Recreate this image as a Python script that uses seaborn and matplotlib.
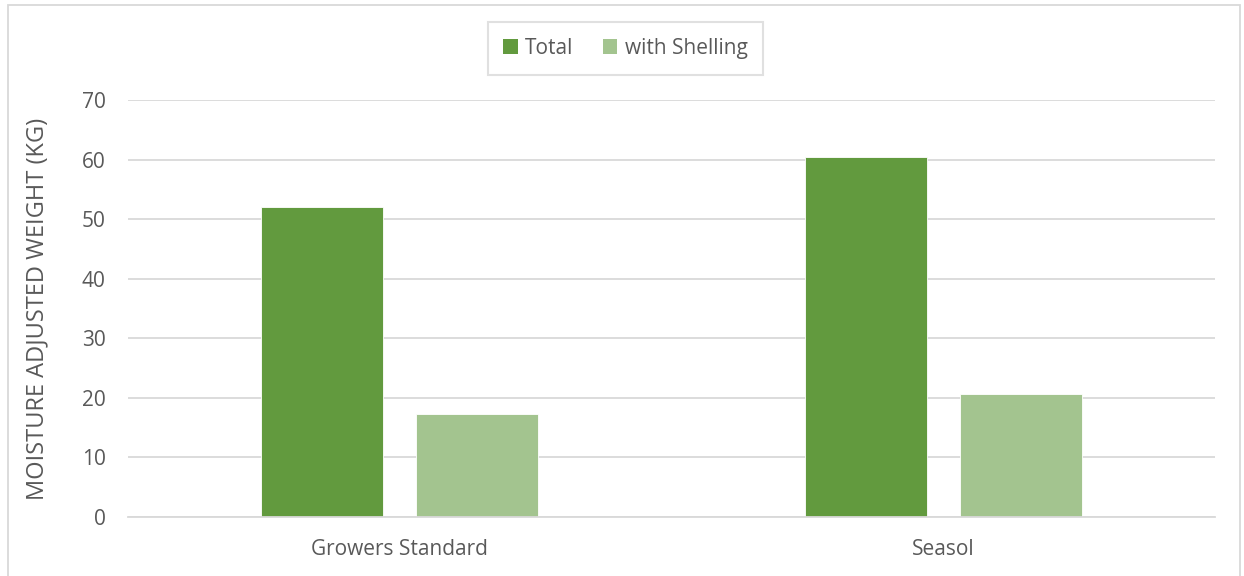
import matplotlib
matplotlib.use("Agg")
import matplotlib.pyplot as plt
import seaborn as sns
import pandas as pd
from matplotlib.patches import Patch, Rectangle

categories = ["Growers Standard", "Seasol"]
series_names = ["Total", "with Shelling"]
total_values = [52.0, 60.4]
shelling_values = [17.3, 20.6]
y_ticks = [0, 10, 20, 30, 40, 50, 60, 70]
y_label = "MOISTURE ADJUSTED WEIGHT (KG)"

colors = ["#629A3E", "#A3C48F"]
text_color = "#595959"
grid_color = "#D9D9D9"

df = pd.DataFrame({
    "category": categories * 2,
    "series": [series_names[0]] * len(categories) + [series_names[1]] * len(categories),
    "value": total_values + shelling_values,
})

sns.set_theme(style="white")
plt.rcParams["font.family"] = ["Open Sans", "DejaVu Sans"]
fs = 15

fig = plt.figure(figsize=(12.44, 5.76), dpi=100)
ax = fig.add_axes([128 / 1244, 1 - 517 / 576, (1215 - 128) / 1244, (517 - 100) / 576])

sns.barplot(data=df, x="category", y="value", hue="series", order=categories,
            hue_order=series_names, palette=colors, width=0.57, gap=0.213,
            edgecolor="#ffffff", linewidth=0.6, ax=ax, legend=False, saturation=1)

ax.set_ylim(0, 70)
ax.set_xlim(-0.5, 1.5)
ax.set_yticks(y_ticks)
ax.yaxis.grid(True, color=grid_color, linewidth=1.3)
ax.set_axisbelow(True)
for s in ["top", "right", "left"]:
    ax.spines[s].set_visible(False)
ax.spines["bottom"].set_color(grid_color)
ax.spines["bottom"].set_linewidth(1.3)
ax.tick_params(axis="both", length=0, labelsize=fs, colors=text_color)
ax.tick_params(axis="y", pad=16)
ax.tick_params(axis="x", pad=16)
ax.set_xlabel("")
ax.set_ylabel(y_label, fontsize=17, color=text_color)
ax.yaxis.set_label_coords((49 - 128) / (1215 - 128), 0.5)

handles = [Patch(facecolor=c, edgecolor="none", label=n) for c, n in zip(colors, series_names)]
leg = fig.legend(handles=handles, loc="center", bbox_to_anchor=(625.5 / 1244, 1 - 48.5 / 576),
                 ncol=2, frameon=True, fontsize=fs, handlelength=0.7, handleheight=0.7,
                 handletextpad=0.35, columnspacing=1.4, borderpad=0.75, borderaxespad=0,
                 fancybox=False)
leg.get_frame().set_edgecolor("#D9D9D9")
leg.get_frame().set_linewidth(1.5)
for t in leg.get_texts():
    t.set_color(text_color)

fig.patches.append(Rectangle((8 / 1244, -0.01), (1240 - 8) / 1244, 1 - 5 / 576 + 0.01,
                             transform=fig.transFigure, fill=False,
                             edgecolor="#D9D9D9", linewidth=1.3))

fig.savefig("out.png", dpi=100)
